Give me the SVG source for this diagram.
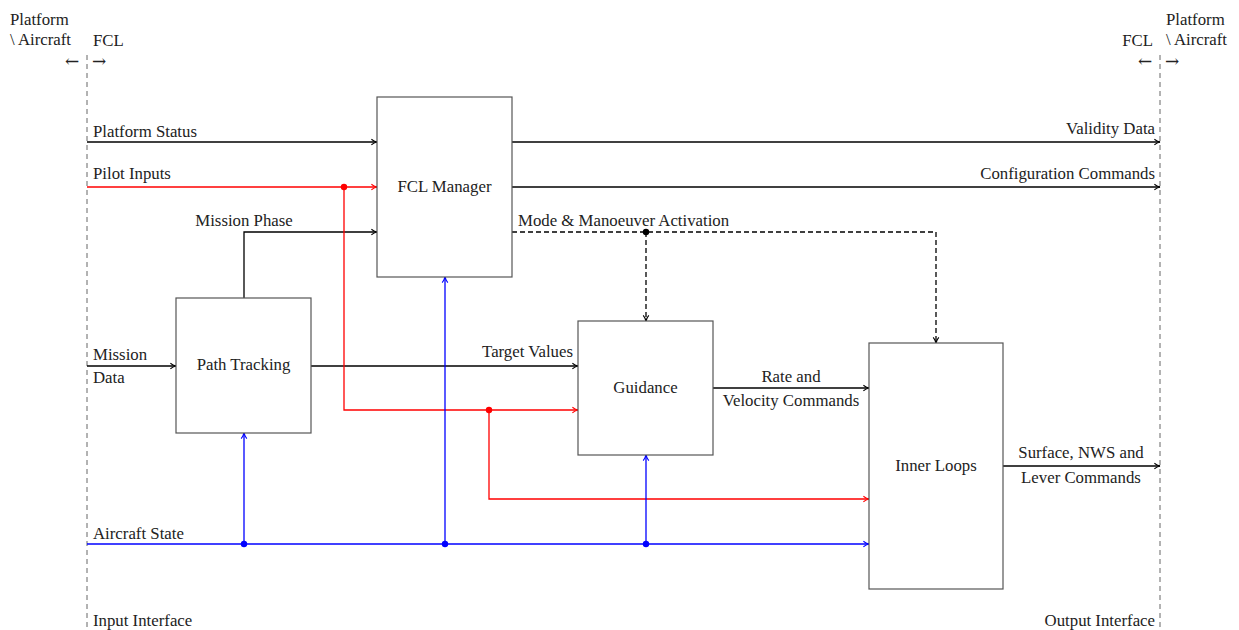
<svg xmlns="http://www.w3.org/2000/svg" width="1239" height="630" viewBox="0 0 1239 630">
<style>
text{font-family:"Liberation Serif","DejaVu Serif",serif;font-size:16.8px;fill:#222}
text.arr{font-family:"DejaVu Serif",serif;font-size:17px}
.box{fill:#fff;stroke:#555;stroke-width:1.2}
.k{stroke:#000;stroke-width:1.3;fill:none}
.r{stroke:#f00;stroke-width:1.3;fill:none}
.b{stroke:#00f;stroke-width:1.3;fill:none}
.d{stroke-dasharray:5 3}
.iface{stroke:#666;stroke-width:1;stroke-dasharray:5 4;fill:none}
.m{text-anchor:middle}
.e{text-anchor:end}
</style>
<defs>
<marker id="ak" viewBox="0 0 10 10" refX="9" refY="5" markerWidth="8" markerHeight="8" markerUnits="userSpaceOnUse" orient="auto"><path d="M2,1.5 Q5,4 9,5 Q5,6 2,8.5" fill="none" stroke="#000" stroke-width="1.4"/></marker>
<marker id="ar" viewBox="0 0 10 10" refX="9" refY="5" markerWidth="8" markerHeight="8" markerUnits="userSpaceOnUse" orient="auto"><path d="M2,1.5 Q5,4 9,5 Q5,6 2,8.5" fill="none" stroke="#f00" stroke-width="1.4"/></marker>
<marker id="ab" viewBox="0 0 10 10" refX="9" refY="5" markerWidth="8" markerHeight="8" markerUnits="userSpaceOnUse" orient="auto"><path d="M2,1.5 Q5,4 9,5 Q5,6 2,8.5" fill="none" stroke="#00f" stroke-width="1.4"/></marker>
</defs>

<g id="interfaces">
<line class="iface" x1="87" y1="55" x2="87" y2="630"/>
<line class="iface" x1="1160" y1="55" x2="1160" y2="630"/>
<text x="10" y="25">Platform</text>
<text x="10" y="45">\ Aircraft</text>
<text x="93" y="46">FCL</text>
<text x="65" y="67" class="arr">←</text>
<text x="92" y="67" class="arr">→</text>
<text x="1153" y="46" class="e">FCL</text>
<text x="1166" y="25">Platform</text>
<text x="1166" y="45">\ Aircraft</text>
<text x="1138" y="67" class="arr">←</text>
<text x="1165" y="67" class="arr">→</text>
<text x="93" y="626">Input Interface</text>
<text x="1155" y="626" class="e">Output Interface</text>
</g>

<g id="connectors">
<line class="k" x1="87" y1="142" x2="377" y2="142" marker-end="url(#ak)"/>
<line class="k" x1="512" y1="142" x2="1160" y2="142" marker-end="url(#ak)"/>
<line class="r" x1="87" y1="187" x2="377" y2="187" marker-end="url(#ar)"/>
<line class="k" x1="512" y1="187" x2="1160" y2="187" marker-end="url(#ak)"/>
<polyline class="k" points="244,298 244,232 377,232" marker-end="url(#ak)"/>
<polyline class="k d" points="512,232 936,232 936,343" marker-end="url(#ak)"/>
<line class="k d" x1="646" y1="232" x2="646" y2="321" marker-end="url(#ak)"/>
<circle cx="646" cy="232" r="3.2" fill="#000"/>
<line class="k" x1="87" y1="366" x2="176" y2="366" marker-end="url(#ak)"/>
<line class="k" x1="311" y1="366" x2="578" y2="366" marker-end="url(#ak)"/>
<polyline class="r" points="344,187 344,410 578,410" marker-end="url(#ar)"/>
<circle cx="344" cy="187" r="3.2" fill="#f00"/>
<polyline class="r" points="489,410 489,499 869,499" marker-end="url(#ar)"/>
<circle cx="489" cy="410" r="3.2" fill="#f00"/>
<line class="k" x1="713" y1="388" x2="869" y2="388" marker-end="url(#ak)"/>
<line class="k" x1="1003" y1="466" x2="1160" y2="466" marker-end="url(#ak)"/>
<line class="b" x1="87" y1="544" x2="869" y2="544" marker-end="url(#ab)"/>
<line class="b" x1="244" y1="544" x2="244" y2="433" marker-end="url(#ab)"/>
<line class="b" x1="445" y1="544" x2="445" y2="277" marker-end="url(#ab)"/>
<line class="b" x1="646" y1="544" x2="646" y2="455" marker-end="url(#ab)"/>
<circle cx="244" cy="544" r="3.2" fill="#00f"/>
<circle cx="445" cy="544" r="3.2" fill="#00f"/>
<circle cx="646" cy="544" r="3.2" fill="#00f"/>

<text x="93" y="137">Platform Status</text>
<text x="1155" y="134" class="e">Validity Data</text>
<text x="93" y="179">Pilot Inputs</text>
<text x="1155" y="179" class="e">Configuration Commands</text>
<text x="244" y="226" class="m">Mission Phase</text>
<text x="518" y="226">Mode &amp; Manoeuver Activation</text>
<text x="93" y="360">Mission</text>
<text x="93" y="383">Data</text>
<text x="573" y="357" class="e">Target Values</text>
<text x="791" y="382" class="m">Rate and</text>
<text x="791" y="406" class="m">Velocity Commands</text>
<text x="1081" y="458" class="m">Surface, NWS and</text>
<text x="1081" y="483" class="m">Lever Commands</text>
<text x="93" y="539">Aircraft State</text>
</g>

<g id="fcl-manager">
<rect class="box" x="377" y="97" width="135" height="180"/>
<text x="444.5" y="192" class="m">FCL Manager</text>
</g>
<g id="path-tracking">
<rect class="box" x="176" y="298" width="135" height="135"/>
<text x="243.5" y="370" class="m">Path Tracking</text>
</g>
<g id="guidance">
<rect class="box" x="578" y="321" width="135" height="134"/>
<text x="645.5" y="393" class="m">Guidance</text>
</g>
<g id="inner-loops">
<rect class="box" x="869" y="343" width="134" height="246"/>
<text x="936" y="471" class="m">Inner Loops</text>
</g>
</svg>
